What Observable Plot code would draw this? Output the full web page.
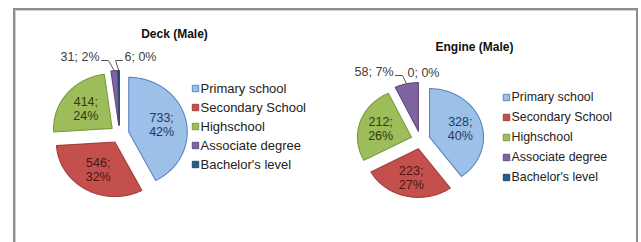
<!DOCTYPE html>
<html>
<head>
<meta charset="utf-8">
<script src="https://cdn.jsdelivr.net/npm/d3@7"></script>
<script src="https://cdn.jsdelivr.net/npm/@observablehq/plot@0.6"></script>
<style>
  html, body { margin: 0; padding: 0; background: #fff; }
  #wrap { position: relative; width: 641px; height: 242px; overflow: hidden; font-family: "Liberation Sans", Arial, sans-serif; }
  #frame { position: absolute; left: 13px; top: 8px; width: 621px; height: 280px; border: 2px solid #8e8e8e; box-shadow: inset 1px 1px 0 #d0d0d0; }
  #chart { position: absolute; left: 0; top: 0; }
</style>
</head>
<body>
<div id="wrap"><div id="frame"></div><div id="chart"></div></div>
<script>
// ---- data ----
const categories = ["Primary school", "Secondary School", "Highschool", "Associate degree", "Bachelor's level"];
const deckValues = [733, 546, 414, 31, 6];
const engineValues = [328, 223, 212, 58, 0];
const titles = ["Deck (Male)", "Engine (Male)"];

// ---- styles ----
const fills   = ["#9cc0e8", "#c4504d", "#9dbd5b", "#8064a2", "#235d8c"];
const strokes = ["#5a86c0", "#a23f3c", "#7c9a3c", "#5e4a80", "#1b4a70"];
const labelInk = ["#1f3a60", "#4a1412", "#2f3c10", "#404040", "#404040"];

// ---- layout (pixel units of the scales) ----
const pies = [
  {values: deckValues, title: titles[0], cx: 119, cy: 133.6, rx: 58.5, ry: 54.6, ex: 9.5, ey: 9,
   titleX: 174, titleY: 34, legX: 195, legY: 88, legStep: 19, legSize: 13, labelFrac: 0.58,
   outside: [null, null, null, {x: 99, y: 56, anchor: "end"}, {x: 124, y: 56, anchor: "start"}]},
  {values: engineValues, title: titles[1], cx: 420, cy: 139.5, rx: 54, ry: 48.6, ex: 9.5, ey: 9,
   titleX: 474, titleY: 47, legX: 506, legY: 97, legStep: 20, legSize: 12.4, labelFrac: 0.6,
   outside: [null, null, null, {x: 393, y: 71, anchor: "end"}, {x: 407, y: 72, anchor: "start"}]}
];

const marks = [];
for (const p of pies) {
  const total = d3.sum(p.values);
  const arcs = d3.pie().sort(null).value(d => d)(p.values);
  arcs.forEach((a, i) => {
    const mid = (a.startAngle + a.endAngle) / 2;
    const tx = p.cx + p.ex * Math.sin(mid);
    const ty = p.cy - p.ey * Math.cos(mid);
    const pct = Math.round(a.value / total * 100);
    // slice polygon
    if (a.value > 0) {
      const n = Math.max(2, Math.ceil((a.endAngle - a.startAngle) / 0.02));
      const pts = [{x: tx, y: ty}];
      for (let k = 0; k <= n; k++) {
        const t = a.startAngle + (a.endAngle - a.startAngle) * k / n;
        pts.push({x: tx + p.rx * Math.sin(t), y: ty - p.ry * Math.cos(t)});
      }
      pts.push({x: tx, y: ty});
      marks.push(Plot.line(pts, {x: "x", y: "y", fill: fills[i], stroke: strokes[i], strokeWidth: 1.1, curve: "linear"}));
    }
    const out = p.outside[i];
    if (out) {
      marks.push(Plot.text([{x: out.x, y: out.y, t: `${a.value}; ${pct}%`}],
        {x: "x", y: "y", text: "t", textAnchor: out.anchor, fill: "#404040", fontSize: 12.5}));
      if (a.value > 0) {
        const ox = tx + p.rx * Math.sin(mid), oy = ty - p.ry * Math.cos(mid);
        const dir = out.anchor === "end" ? 1 : -1;
        const lead = [{x: out.x + dir * 2, y: out.y + 4}, {x: out.x + dir * 9, y: out.y + 4}, {x: ox, y: oy}];
        marks.push(Plot.line(lead, {x: "x", y: "y", stroke: "#555", strokeWidth: 1}));
      }
    } else {
      const lx = tx + p.labelFrac * p.rx * Math.sin(mid);
      const ly = ty - p.labelFrac * p.ry * Math.cos(mid);
      marks.push(Plot.text([{x: lx, y: ly, t: `${a.value};\n${pct}%`}],
        {x: "x", y: "y", text: "t", fill: labelInk[i], fontSize: 12.5, lineHeight: 1.15}));
    }
  });
  // title
  marks.push(Plot.text([{x: p.titleX, y: p.titleY, t: p.title}],
    {x: "x", y: "y", text: "t", fontWeight: "bold", fontSize: 12, fill: "#111"}));
  // legend
  const leg = categories.map((c, i) => ({x: p.legX, y: p.legY + i * p.legStep, c, i}));
  marks.push(Plot.dot(leg, {x: "x", y: "y", symbol: "square", r: 3.6, fill: d => fills[d.i], stroke: d => strokes[d.i], strokeWidth: 1}));
  marks.push(Plot.text(leg, {x: d => d.x + 5, y: "y", text: "c", textAnchor: "start", fontSize: p.legSize, fill: "#222"}));
}

const chart = Plot.plot({
  width: 641,
  height: 242,
  margin: 0,
  x: {domain: [0, 641], range: [0, 641], axis: null},
  y: {domain: [0, 242], range: [0, 242], axis: null},
  color: {type: "identity"},
  style: {fontFamily: "'Liberation Sans', Arial, sans-serif", background: "transparent", overflow: "visible"},
  marks
});
document.getElementById("chart").appendChild(chart);
</script>
</body>
</html>
